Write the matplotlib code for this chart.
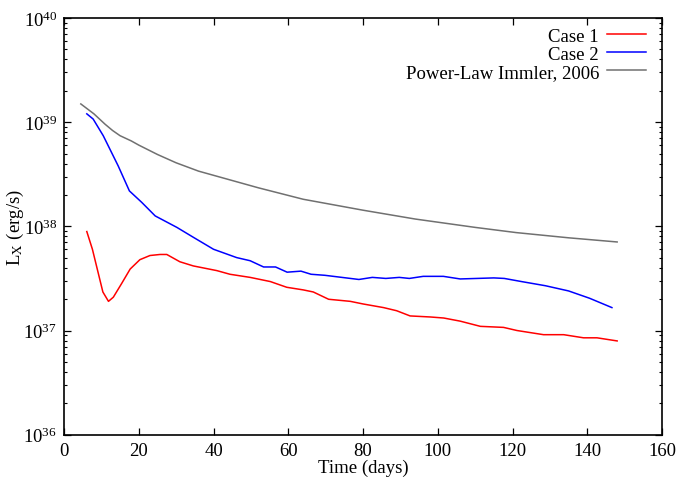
import numpy as np
import matplotlib
matplotlib.use("Agg")
import matplotlib.pyplot as plt
from matplotlib.ticker import LogLocator, NullFormatter, FixedLocator

plt.rcParams['font.family'] = ['Liberation Serif', 'DejaVu Serif']
plt.rcParams['mathtext.fontset'] = 'stix'

# values (day, log10 L_X)
case1_t = [6.1, 7.6, 10.4, 11.9, 13.2, 15.4, 17.7, 20.3, 23.0, 25.7, 27.5, 31.0, 34.6,
           40.9, 44.4, 49.8, 55.2, 59.6, 64.0, 66.7, 70.8, 76.6, 80.0, 85.5, 89.0,
           92.6, 98.0, 101.6, 106.0, 111.4, 117.6, 121.2, 128.3, 133.7, 139.0, 142.6, 148.0]
case1_log = [37.95, 37.78, 37.37, 37.28, 37.32, 37.45, 37.59, 37.68, 37.72, 37.73, 37.73, 37.66, 37.62,
             37.575, 37.54, 37.51, 37.47, 37.415, 37.39, 37.37, 37.30, 37.28, 37.255, 37.22, 37.19,
             37.14, 37.13, 37.12, 37.09, 37.04, 37.03, 37.0, 36.96, 36.96, 36.93, 36.93, 36.90]

case2_t = [6.1, 7.8, 10.5, 14.5, 17.5, 20.8, 24.4, 30.2, 34.6, 40.0, 46.2, 49.8, 53.4, 56.6,
           59.7, 63.4, 66.1, 69.8, 78.9, 82.5, 86.1, 89.7, 92.4, 96.1, 101.5, 106.0, 115.0,
           117.8, 122.4, 128.8, 135.0, 140.6, 146.6]
case2_log = [39.08, 39.03, 38.87, 38.58, 38.34, 38.23, 38.10, 37.99, 37.895, 37.78, 37.70, 37.67, 37.61, 37.61,
             37.56, 37.57, 37.54, 37.53, 37.49, 37.51, 37.50, 37.51, 37.50, 37.52, 37.52, 37.495, 37.505,
             37.50, 37.47, 37.43, 37.38, 37.31, 37.22]

pl_t = [4.5, 8, 11, 13, 15, 18, 20, 25, 30, 36, 45, 52, 64, 80, 94, 110, 121, 135, 148]
pl_log = [39.175, 39.08, 38.98, 38.92, 38.87, 38.82, 38.78, 38.69, 38.61, 38.53, 38.44, 38.37,
          38.26, 38.155, 38.07, 37.99, 37.94, 37.89, 37.85]

FS = 13.5

fig = plt.figure(figsize=(6.78, 4.81), dpi=100)
ax = fig.add_axes([0.0944, 0.0942, 0.8820, 0.8663])

ax.plot(case1_t, 10 ** np.array(case1_log), color="#ff0000", lw=1.1, label="Case 1")
ax.plot(case2_t, 10 ** np.array(case2_log), color="#0000ff", lw=1.1, label="Case 2")
ax.plot(pl_t, 10 ** np.array(pl_log), color="#707070", lw=1.1, label="Power-Law Immler, 2006")

ax.set_yscale("log")
ax.set_xlim(0, 160)
ax.set_ylim(1e36, 1e40)
ax.xaxis.set_major_locator(FixedLocator(np.arange(0, 161, 20)))
ax.yaxis.set_major_locator(LogLocator(base=10, numticks=10))
ax.yaxis.set_minor_locator(LogLocator(base=10, subs=np.arange(2, 10), numticks=20))
ax.yaxis.set_minor_formatter(NullFormatter())

ax.tick_params(which="both", direction="in", top=True, right=True, labelsize=FS, pad=5)
ax.tick_params(which="major", length=5, width=0.9)
ax.tick_params(which="minor", length=2.5, width=0.8)
for s in ax.spines.values():
    s.set_linewidth(1.2)

ax.set_xlabel("Time (days)", fontsize=FS, labelpad=0)
ax.set_ylabel(r"L$_{\mathrm{X}}$ (erg/s)", fontsize=FS, labelpad=-2)

ax.legend(loc="upper right", frameon=False, markerfirst=False, fontsize=FS,
          handlelength=2.1, handletextpad=0.4, labelspacing=0.05,
          borderaxespad=0.3, bbox_to_anchor=(0.995, 1.008))

fig.savefig("out.png", dpi=100)
